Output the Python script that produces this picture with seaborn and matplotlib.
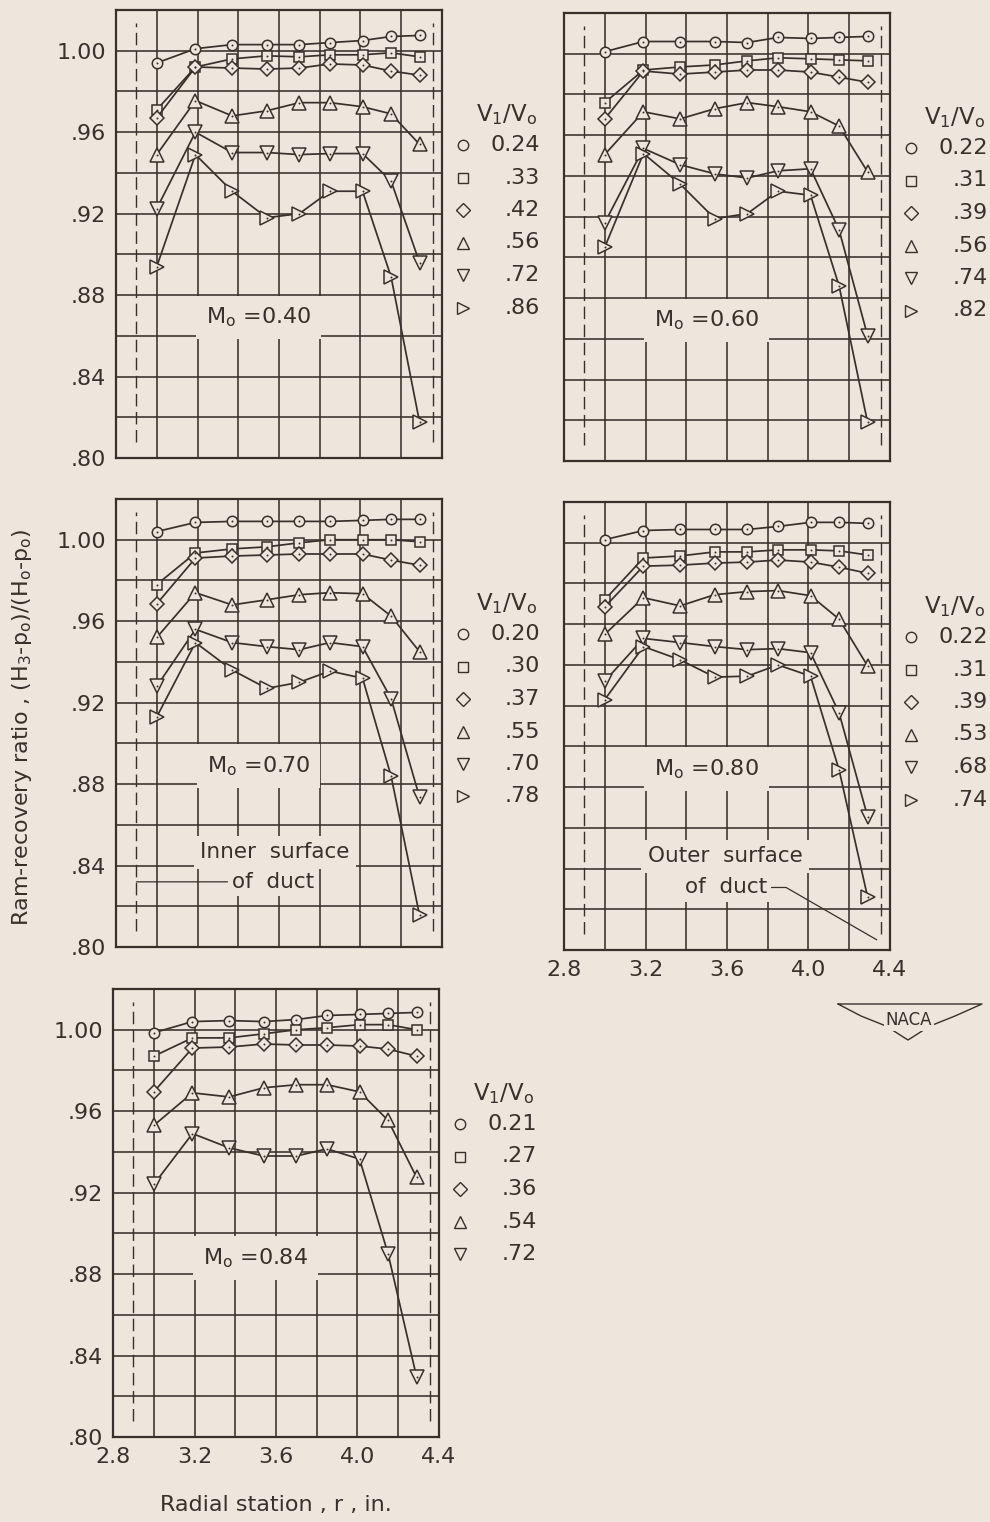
import numpy as np
import pandas as pd
import seaborn as sns
import matplotlib.pyplot as plt

# radial stations (in.) where the rakes were read
stations = [3.00, 3.19, 3.37, 3.54, 3.70, 3.85, 4.01, 4.15, 4.29]

# M0 = 0.40
m040_ratios = ["0.24", ".33", ".42", ".56", ".72", ".86"]
m040_values = [
    [0.994, 1.001, 1.003, 1.003, 1.003, 1.004, 1.005, 1.007, 1.0075],
    [0.971, 0.992, 0.996, 0.9975, 0.997, 0.998, 0.998, 0.999, 0.997],
    [0.967, 0.992, 0.9915, 0.991, 0.9915, 0.9935, 0.993, 0.990, 0.988],
    [0.949, 0.9755, 0.968, 0.9705, 0.9745, 0.9745, 0.9725, 0.969, 0.954],
    [0.9225, 0.960, 0.950, 0.950, 0.949, 0.9495, 0.9495, 0.936, 0.896],
    [0.894, 0.949, 0.931, 0.918, 0.920, 0.931, 0.931, 0.889, 0.8175],
]

# M0 = 0.60
m060_ratios = ["0.22", ".31", ".39", ".56", ".74", ".82"]
m060_values = [
    [1.001, 1.006, 1.006, 1.006, 1.0055, 1.008, 1.0075, 1.008, 1.0085],
    [0.976, 0.992, 0.9935, 0.9945, 0.9965, 0.998, 0.9975, 0.997, 0.9965],
    [0.968, 0.9915, 0.990, 0.991, 0.992, 0.992, 0.991, 0.9885, 0.986],
    [0.9505, 0.9715, 0.968, 0.973, 0.976, 0.974, 0.9715, 0.9645, 0.942],
    [0.917, 0.9535, 0.9455, 0.941, 0.939, 0.9425, 0.9435, 0.9135, 0.8615],
    [0.905, 0.951, 0.936, 0.919, 0.9215, 0.9325, 0.9305, 0.886, 0.819],
]

# M0 = 0.70
m070_ratios = ["0.20", ".30", ".37", ".55", ".70", ".78"]
m070_values = [
    [1.004, 1.0085, 1.009, 1.009, 1.009, 1.009, 1.0095, 1.010, 1.010],
    [0.978, 0.9935, 0.9955, 0.9965, 0.9985, 1.000, 1.000, 1.000, 0.999],
    [0.9685, 0.991, 0.992, 0.9925, 0.993, 0.993, 0.993, 0.990, 0.9875],
    [0.952, 0.974, 0.968, 0.9705, 0.973, 0.974, 0.9735, 0.9625, 0.945],
    [0.928, 0.956, 0.9495, 0.9475, 0.946, 0.9495, 0.9475, 0.922, 0.8735],
    [0.913, 0.9495, 0.936, 0.927, 0.930, 0.9355, 0.932, 0.884, 0.8155],
]

# M0 = 0.80
m080_ratios = ["0.22", ".31", ".39", ".53", ".68", ".74"]
m080_values = [
    [1.0015, 1.006, 1.0065, 1.0065, 1.0065, 1.008, 1.010, 1.010, 1.0095],
    [0.972, 0.9925, 0.9935, 0.9955, 0.9955, 0.9965, 0.9965, 0.996, 0.994],
    [0.9685, 0.9885, 0.989, 0.990, 0.9905, 0.9915, 0.9905, 0.988, 0.985],
    [0.955, 0.973, 0.969, 0.9745, 0.976, 0.9765, 0.974, 0.9625, 0.9395],
    [0.932, 0.953, 0.951, 0.949, 0.9475, 0.948, 0.946, 0.9165, 0.8655],
    [0.923, 0.949, 0.9425, 0.934, 0.9345, 0.940, 0.9345, 0.8885, 0.826],
]

# M0 = 0.84
m084_ratios = ["0.21", ".27", ".36", ".54", ".72"]
m084_values = [
    [0.9985, 1.004, 1.0045, 1.004, 1.005, 1.007, 1.0075, 1.008, 1.0085],
    [0.987, 0.996, 0.996, 0.998, 1.000, 1.001, 1.0025, 1.0025, 1.000],
    [0.9695, 0.991, 0.9915, 0.993, 0.9925, 0.9925, 0.992, 0.9905, 0.987],
    [0.953, 0.969, 0.967, 0.9715, 0.973, 0.973, 0.9695, 0.9555, 0.9275],
    [0.924, 0.949, 0.942, 0.938, 0.938, 0.9415, 0.9365, 0.890, 0.8295],
]

mach_names = ["0.40", "0.60", "0.70", "0.80", "0.84"]
x_ticks = [2.8, 3.0, 3.2, 3.4, 3.6, 3.8, 4.0, 4.2, 4.4]
x_ticklabels = ["2.8", "", "3.2", "", "3.6", "", "4.0", "", "4.4"]
y_ticks = [0.80, 0.82, 0.84, 0.86, 0.88, 0.90, 0.92, 0.94, 0.96, 0.98, 1.00]
y_ticklabels = [".80", "", ".84", "", ".88", "", ".92", "", ".96", "", "1.00"]
duct_walls = [2.9, 4.355]

symbols = ["o", "s", "D", "^", "v", ">"]
sym_size = [7.5, 6.5, 7.0, 9.5, 9.5, 9.5]
key_size = [7.5, 7.5, 7.5, 9.0, 9.0, 9.0]

BG = "#ece6dc"
INK = "#36312c"

sns.set_theme(style="white")
plt.rcParams.update({
    "figure.facecolor": BG,
    "axes.facecolor": BG,
    "savefig.facecolor": BG,
    "text.color": INK,
    "axes.edgecolor": INK,
    "xtick.color": INK,
    "ytick.color": INK,
    "mathtext.fontset": "dejavusans",
})
plt.rcParams["font.family"] = ["DejaVu Sans"]

W, H = 990, 1522
fig = plt.figure(figsize=(W / 100, H / 100), dpi=100)

# panel boxes in pixels: (left, top)
boxes = [(116, 10), (564, 13), (116, 499), (564, 502), (113, 989)]
PW, PH = 326, 448

panels = [
    (m040_ratios, m040_values),
    (m060_ratios, m060_values),
    (m070_ratios, m070_values),
    (m080_ratios, m080_values),
    (m084_ratios, m084_values),
]
mach_y = [0.869, 0.869, 0.889, 0.889, 0.888]

axes = []
for i, ((ratios, values), (left, top)) in enumerate(zip(panels, boxes)):
    ax = fig.add_axes([left / W, 1 - (top + PH) / H, PW / W, PH / H])
    axes.append(ax)

    rows = []
    for r, vals in zip(ratios, values):
        for s, v in zip(stations, vals):
            rows.append({"station": s, "ratio": r, "recovery": v})
    df = pd.DataFrame(rows)

    for k, r in enumerate(ratios):
        sub = df[df["ratio"] == r]
        sns.lineplot(data=sub, x="station", y="recovery", ax=ax, sort=False,
                     estimator=None, color=INK, lw=1.25, marker=symbols[k],
                     markersize=sym_size[k], markerfacecolor=BG,
                     markeredgecolor=INK, markeredgewidth=1.1, zorder=3)
        sns.scatterplot(data=sub, x="station", y="recovery", ax=ax, s=2,
                        color=INK, linewidth=0, zorder=4)

    for xw in duct_walls:
        ax.axvline(xw, ymin=0.035, ymax=0.972, color=INK, lw=1.0,
                   ls=(0, (9, 4)), zorder=2)

    ax.set_xlim(2.8, 4.4)
    ax.set_ylim(0.80, 1.02)
    ax.set_xticks(x_ticks)
    ax.set_yticks(y_ticks)
    ax.grid(True, color=INK, lw=1.15)
    ax.set_axisbelow(True)
    for sp in ax.spines.values():
        sp.set_linewidth(1.6)
    ax.tick_params(length=0, labelsize=16, pad=7)
    if i in (3, 4):
        ax.set_xticklabels(x_ticklabels)
    else:
        ax.set_xticklabels([])
    if i in (0, 2, 4):
        ax.set_yticklabels(y_ticklabels)
    else:
        ax.set_yticklabels([])
    ax.set_xlabel("")
    ax.set_ylabel("")

    ax.text(3.5, mach_y[i], r"M$_{\rm o}$ =" + mach_names[i], ha="center",
            va="center", fontsize=16, zorder=5,
            bbox=dict(boxstyle="square,pad=0.45", fc=BG, ec="none"))

    # hand-made key to the right of each panel
    hx, hy, mx, tx, y0, dy = 391, 105, 347, 424, 135, 32.5
    ax.text(hx / PW, 1 - hy / PH, r"V$_1$/V$_{\rm o}$", transform=ax.transAxes,
            ha="center", va="center", fontsize=16.5)
    for k, r in enumerate(ratios):
        yy = 1 - (y0 + k * dy) / PH
        ax.plot([mx / PW], [yy], transform=ax.transAxes, clip_on=False,
                marker=symbols[k], markersize=key_size[k], mfc="none",
                mec=INK, mew=1.0, ls="none")
        ax.text(tx / PW, yy, r, transform=ax.transAxes, ha="right",
                va="center", fontsize=16)

# duct surface notes
ax3, ax4 = axes[2], axes[3]
ax3.text(3.58, 0.8466, "Inner  surface", ha="center", va="center",
         fontsize=15.5, zorder=5,
         bbox=dict(boxstyle="square,pad=0.3", fc=BG, ec="none"))
ax3.annotate("of  duct", xy=(2.9, 0.832), xytext=(3.57, 0.832),
             ha="center", va="center", fontsize=15.5, zorder=5,
             bbox=dict(boxstyle="square,pad=0.2", fc=BG, ec="none"),
             arrowprops=dict(arrowstyle="-", color=INK, lw=0.9,
                             shrinkA=0, shrinkB=0))
ax4.text(3.59, 0.846, "Outer  surface", ha="center", va="center",
         fontsize=15.5, zorder=5,
         bbox=dict(boxstyle="square,pad=0.3", fc=BG, ec="none"))
ax4.annotate("of  duct", xy=(4.335, 0.805), xytext=(3.595, 0.8307),
             ha="center", va="center", fontsize=15.5, zorder=5,
             bbox=dict(boxstyle="square,pad=0.2", fc=BG, ec="none"),
             arrowprops=dict(arrowstyle="-", color=INK, lw=0.9,
                             shrinkA=0, shrinkB=0,
                             connectionstyle="angle,angleA=0,angleB=150,rad=0"))

fig.text(22 / W, 1 - 727 / H,
         r"Ram-recovery ratio , (H$_3$-p$_{\rm o}$)/(H$_{\rm o}$-p$_{\rm o}$)",
         rotation=90, ha="center", va="center", fontsize=16)
fig.text(276 / W, 1 - 1505 / H, "Radial station , r , in.", ha="center",
         va="center", fontsize=16)

# NACA wings mark
wing_x = np.array([838, 982, 955, 930, 908, 886, 861, 838])
wing_y = np.array([1004, 1004, 1016, 1026, 1040, 1026, 1016, 1004])
fig.lines.append(plt.Line2D(wing_x / W, 1 - wing_y / H, transform=fig.transFigure,
                            color=INK, lw=1.0))
fig.text(909 / W, 1 - 1020 / H, "NACA", ha="center", va="center", fontsize=12,
         bbox=dict(boxstyle="square,pad=0.1", fc=BG, ec="none"))

fig.savefig("out.png", dpi=100, facecolor=BG)
